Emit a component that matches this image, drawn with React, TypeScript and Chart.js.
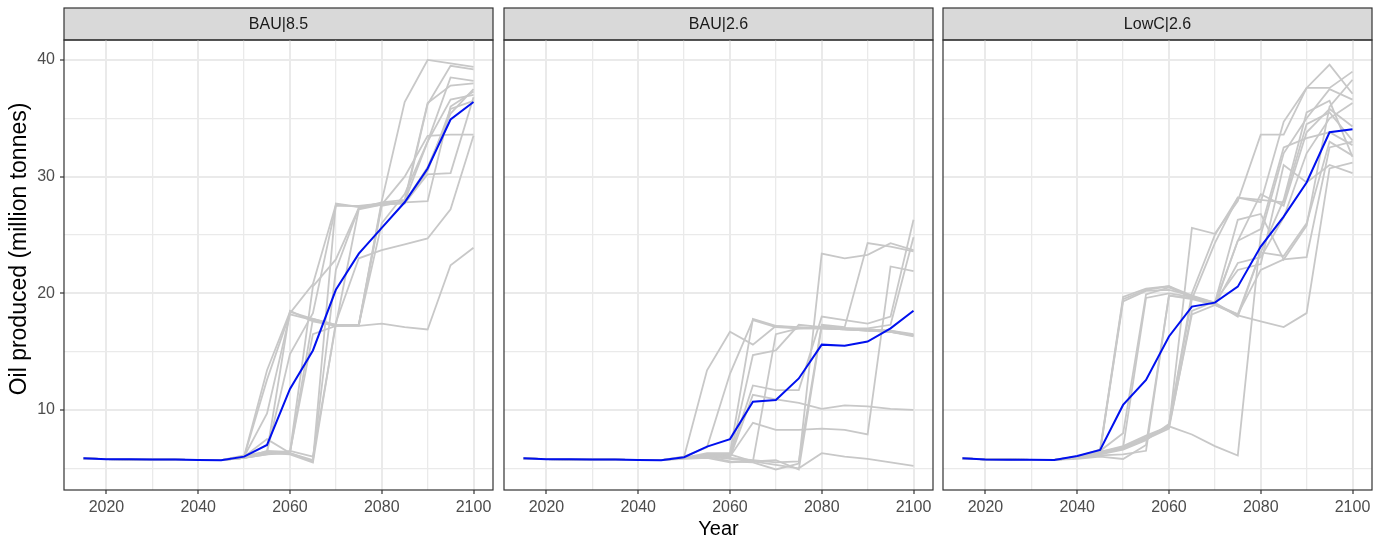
import React, { useEffect, useRef } from 'react';
import { Chart, registerables } from 'chart.js';

Chart.register(...registerables);

const years = [2015, 2020, 2025, 2030, 2035, 2040, 2045, 2050, 2055, 2060, 2065, 2070, 2075, 2080, 2085, 2090, 2095, 2100];
const xMajorTicks = [2020, 2040, 2060, 2080, 2100];
const xMinorTicks = [2030, 2050, 2070, 2090];
const yMajorTicks = [10, 20, 30, 40];
const yMinorTicks = [5, 15, 25, 35];
const panelTitles = ['BAU|8.5', 'BAU|2.6', 'LowC|2.6'];
const xAxisTitle = 'Year';
const yAxisTitle = 'Oil produced (million tonnes)';

const bau85Mean = [5.86, 5.78, 5.77, 5.76, 5.75, 5.72, 5.7, 6.0, 7.0, 11.8, 15.1, 20.3, 23.4, 25.6, 27.8, 30.7, 34.9, 36.4];
const bau85Runs = [
  [5.85, 5.78, 5.76, 5.75, 5.74, 5.7, 5.7, 6.0, 13.4, 18.4, 17.8, 17.3, 17.3, 27.9, 36.4, 40.0, 39.7, 39.4],
  [5.85, 5.78, 5.76, 5.75, 5.74, 5.7, 5.7, 6.0, 12.6, 18.3, 20.8, 27.6, 27.4, 27.7, 27.8, 36.2, 39.5, 39.2],
  [5.85, 5.78, 5.76, 5.75, 5.74, 5.7, 5.7, 6.0, 9.7, 18.2, 17.7, 17.2, 17.2, 17.4, 17.1, 16.9, 22.4, 23.9],
  [5.85, 5.78, 5.76, 5.75, 5.74, 5.7, 5.7, 6.1, 6.4, 18.5, 17.6, 17.2, 17.2, 27.5, 27.9, 33.0, 38.5, 38.2],
  [5.85, 5.78, 5.76, 5.75, 5.74, 5.7, 5.7, 5.9, 6.3, 6.3, 5.6, 27.7, 27.4, 27.6, 27.7, 30.2, 30.3, 36.8],
  [5.85, 5.78, 5.76, 5.75, 5.74, 5.7, 5.7, 5.9, 6.3, 6.2, 5.5, 17.5, 23.0, 23.7, 24.2, 24.7, 27.2, 33.5],
  [5.85, 5.78, 5.76, 5.75, 5.74, 5.7, 5.7, 5.9, 6.5, 6.4, 20.6, 22.9, 27.3, 27.8, 28.0, 36.3, 37.8, 38.0],
  [5.85, 5.78, 5.76, 5.75, 5.74, 5.7, 5.7, 6.0, 7.5, 6.3, 17.8, 17.3, 27.2, 27.6, 30.0, 33.5, 33.6, 33.6],
  [5.85, 5.78, 5.76, 5.75, 5.74, 5.7, 5.7, 5.9, 6.2, 6.5, 6.0, 17.3, 17.3, 27.7, 27.7, 30.5, 35.8, 36.5],
  [5.85, 5.78, 5.76, 5.75, 5.74, 5.7, 5.7, 6.0, 6.4, 14.8, 18.3, 27.5, 27.5, 27.7, 27.8, 30.8, 35.4, 37.5],
  [5.85, 5.78, 5.76, 5.75, 5.74, 5.7, 5.7, 5.9, 6.3, 6.4, 16.5, 17.2, 17.3, 26.0, 28.5, 33.0, 36.6, 37.0],
  [5.85, 5.78, 5.76, 5.75, 5.74, 5.7, 5.7, 5.9, 6.2, 6.3, 5.7, 22.0, 27.3, 27.6, 27.8, 27.9, 36.0, 37.3],
];

const bau26Mean = [5.86, 5.78, 5.77, 5.76, 5.75, 5.72, 5.7, 5.95, 6.86, 7.5, 10.7, 10.86, 12.7, 15.6, 15.5, 15.86, 17.0, 18.5];
const bau26Runs = [
  [5.85, 5.78, 5.76, 5.75, 5.74, 5.7, 5.7, 6.0, 13.4, 16.7, 15.6, 17.2, 17.0, 17.1, 17.0, 16.9, 16.8, 16.5],
  [5.85, 5.78, 5.76, 5.75, 5.74, 5.7, 5.7, 6.0, 6.8, 13.1, 17.7, 17.1, 17.0, 17.0, 16.9, 16.8, 16.7, 16.4],
  [5.85, 5.78, 5.76, 5.75, 5.74, 5.7, 5.7, 5.9, 6.3, 6.3, 17.8, 17.2, 17.1, 17.0, 16.9, 16.8, 16.7, 16.3],
  [5.85, 5.78, 5.76, 5.75, 5.74, 5.7, 5.7, 5.9, 6.2, 6.0, 14.7, 15.1, 17.3, 17.1, 17.0, 16.9, 16.8, 16.4],
  [5.85, 5.78, 5.76, 5.75, 5.74, 5.7, 5.7, 5.9, 6.2, 6.1, 12.1, 11.7, 11.7, 18.0, 17.7, 17.4, 18.0, 26.3],
  [5.85, 5.78, 5.76, 5.75, 5.74, 5.7, 5.7, 5.9, 6.1, 5.9, 11.3, 10.9, 10.6, 10.1, 10.4, 10.3, 10.1, 10.0],
  [5.85, 5.78, 5.76, 5.75, 5.74, 5.7, 5.7, 5.9, 6.1, 6.0, 8.9, 8.3, 8.3, 8.4, 8.3, 7.9, 22.3, 21.9],
  [5.85, 5.78, 5.76, 5.75, 5.74, 5.7, 5.7, 5.8, 5.9, 5.5, 5.6, 5.3, 5.0, 6.3, 6.0, 5.8, 5.5, 5.2],
  [5.85, 5.78, 5.76, 5.75, 5.74, 5.7, 5.7, 5.9, 6.0, 5.6, 5.5, 4.9, 5.4, 23.4, 23.0, 23.3, 24.3, 23.7],
  [5.85, 5.78, 5.76, 5.75, 5.74, 5.7, 5.7, 5.9, 6.1, 6.2, 5.6, 16.5, 17.0, 17.0, 16.9, 16.8, 16.7, 16.4],
  [5.85, 5.78, 5.76, 5.75, 5.74, 5.7, 5.7, 5.9, 6.0, 5.8, 5.6, 5.7, 4.9, 17.2, 17.0, 17.0, 17.3, 24.8],
  [5.85, 5.78, 5.76, 5.75, 5.74, 5.7, 5.7, 5.9, 6.0, 5.9, 5.7, 5.5, 5.6, 17.3, 17.1, 24.3, 24.0, 23.6],
];

const lowc26Mean = [5.86, 5.76, 5.74, 5.73, 5.72, 6.06, 6.57, 10.43, 12.57, 16.3, 18.86, 19.2, 20.57, 24.0, 26.57, 29.5, 33.8, 34.06];
const lowc26Runs = [
  [5.85, 5.77, 5.74, 5.73, 5.72, 6.0, 6.5, 19.5, 20.3, 20.6, 19.8, 19.0, 18.1, 17.6, 17.1, 18.3, 30.7, 31.2],
  [5.85, 5.77, 5.74, 5.73, 5.72, 6.0, 6.6, 19.7, 20.4, 20.6, 19.6, 19.1, 18.2, 22.0, 22.9, 23.1, 32.5, 33.0],
  [5.85, 5.77, 5.74, 5.73, 5.72, 6.0, 6.5, 8.0, 19.9, 20.5, 19.7, 19.2, 18.0, 23.5, 23.2, 26.0, 33.0, 31.8],
  [5.85, 5.77, 5.74, 5.73, 5.72, 6.0, 6.4, 6.8, 7.6, 8.6, 7.9, 6.9, 6.1, 25.0, 32.0, 35.0, 37.5, 36.6],
  [5.85, 5.77, 5.74, 5.73, 5.72, 5.9, 6.3, 6.7, 7.5, 8.7, 20.0, 25.0, 28.2, 28.0, 27.8, 34.5, 35.5, 33.1],
  [5.85, 5.77, 5.74, 5.73, 5.72, 5.9, 6.3, 6.8, 7.7, 8.5, 25.6, 25.1, 27.9, 33.6, 33.6, 37.6, 39.6, 37.1],
  [5.85, 5.77, 5.74, 5.73, 5.72, 5.9, 6.2, 6.6, 7.4, 8.8, 19.5, 24.3, 28.2, 27.8, 34.7, 37.6, 37.6, 39.0],
  [5.85, 5.77, 5.74, 5.73, 5.72, 5.9, 6.1, 6.2, 6.5, 19.8, 19.6, 19.0, 22.6, 23.1, 26.5, 32.0, 35.0, 36.3],
  [5.85, 5.77, 5.74, 5.73, 5.72, 5.9, 6.4, 6.9, 7.8, 8.6, 18.2, 19.0, 24.5, 25.5, 32.5, 33.3, 33.8, 32.7],
  [5.85, 5.77, 5.74, 5.73, 5.72, 6.0, 6.5, 19.3, 20.2, 20.3, 19.8, 19.2, 26.3, 26.8, 22.9, 25.8, 36.0, 38.3],
  [5.85, 5.77, 5.74, 5.73, 5.72, 5.9, 6.3, 6.7, 7.5, 8.4, 18.5, 19.3, 22.0, 22.5, 31.0, 29.5, 31.0, 30.3],
  [5.85, 5.77, 5.74, 5.73, 5.72, 5.9, 6.2, 6.8, 19.6, 20.0, 19.7, 19.1, 24.5, 28.5, 27.5, 33.8, 35.8, 34.3],
  [5.85, 5.77, 5.74, 5.73, 5.72, 5.8, 6.0, 5.8, 7.0, 19.8, 19.5, 19.0, 18.2, 23.5, 28.0, 35.5, 36.5, 31.7],
];

const FONT = '"Liberation Sans", Arial, Helvetica, sans-serif';
const GRID = '#EAEAEA';
const DARK = '#333333';
const RUN_COLOR = '#C8C8C8';
const MEAN_COLOR = '#0010EE';
const STRIP_TOP = 8;

const facetPlugin = {
  id: 'facet',
  beforeDraw(chart: any, _args: any, opts: any) {
    const { ctx, chartArea } = chart;
    const { left, right, top, bottom } = chartArea;
    ctx.save();
    ctx.fillStyle = '#FFFFFF';
    ctx.fillRect(left, top, right - left, bottom - top);
    ctx.fillStyle = '#D9D9D9';
    ctx.fillRect(left, STRIP_TOP, right - left, top - STRIP_TOP);
    ctx.strokeStyle = DARK;
    ctx.lineWidth = 1.2;
    ctx.strokeRect(left, STRIP_TOP, right - left, top - STRIP_TOP);
    ctx.fillStyle = '#1A1A1A';
    ctx.font = `16px ${FONT}`;
    ctx.textAlign = 'center';
    ctx.textBaseline = 'middle';
    ctx.fillText(opts.text, (left + right) / 2, (STRIP_TOP + top) / 2 + 1);
    if (opts.yTitle) {
      // axis title centred over strip + panel, as ggplot does for facets
      ctx.translate(20, (STRIP_TOP + bottom) / 2);
      ctx.rotate(-Math.PI / 2);
      ctx.fillStyle = '#000000';
      ctx.font = `23px ${FONT}`;
      ctx.fillText(opts.yTitle, 0, 0);
    }
    ctx.restore();
  },
  afterDraw(chart: any) {
    const { ctx, chartArea } = chart;
    const { left, right, top, bottom } = chartArea;
    ctx.save();
    ctx.strokeStyle = DARK;
    ctx.lineWidth = 1.2;
    ctx.strokeRect(left, top, right - left, bottom - top);
    ctx.restore();
  },
};

type PanelProps = {
  title: string;
  mean: number[];
  runs: number[][];
  showY: boolean;
  showXTitle: boolean;
  left: number;
  width: number;
  padLeft: number;
  padRight: number;
};

function toPoints(vals: number[]) {
  return years.map((y, i) => ({ x: y, y: vals[i] }));
}

function Panel(p: PanelProps) {
  const ref = useRef<HTMLCanvasElement | null>(null);
  useEffect(() => {
    if (!ref.current) return;
    const allX = [...xMajorTicks, ...xMinorTicks].sort((a, b) => a - b);
    const allY = [...yMajorTicks, ...yMinorTicks].sort((a, b) => a - b);
    const datasets: any[] = [
      {
        data: toPoints(p.mean),
        borderColor: MEAN_COLOR,
        borderWidth: 2,
        pointRadius: 0,
        tension: 0,
      },
      ...p.runs.map((r) => ({
        data: toPoints(r),
        borderColor: RUN_COLOR,
        borderWidth: 1.8,
        pointRadius: 0,
        tension: 0,
      })),
    ];
    const chart = new Chart(ref.current, {
      type: 'line',
      data: { datasets },
      plugins: [facetPlugin as any],
      options: {
        animation: false,
        responsive: false,
        events: [],
        layout: { padding: { left: p.padLeft, right: p.padRight, top: 40, bottom: 0 } },
        plugins: {
          legend: { display: false },
          tooltip: { enabled: false },
          title: { display: false },
          facet: { text: p.title, yTitle: p.showY ? yAxisTitle : '' },
        } as any,
        scales: {
          x: {
            type: 'linear',
            min: 2010.75,
            max: 2104.25,
            afterBuildTicks: (s: any) => {
              s.ticks = allX.map((v) => ({ value: v }));
            },
            afterFit: (s: any) => {
              s.height = 51;
            },
            ticks: {
              autoSkip: false,
              maxRotation: 0,
              padding: 4,
              color: '#4D4D4D',
              font: { family: FONT, size: 16 },
              callback: (v: any) => (xMajorTicks.includes(Number(v)) ? String(v) : ''),
            },
            grid: {
              color: GRID,
              lineWidth: (c: any) => (c.tick && xMajorTicks.includes(c.tick.value) ? 2 : 1.3),
              drawTicks: true,
              tickLength: 4,
              tickWidth: 1.2,
              tickColor: (c: any) => (c.tick && xMajorTicks.includes(c.tick.value) ? DARK : 'rgba(0,0,0,0)'),
            },
            border: { display: false },
            title: {
              display: p.showXTitle,
              text: xAxisTitle,
              color: '#000000',
              font: { family: FONT, size: 20 },
              padding: { top: 0, bottom: 0 },
            },
          },
          y: {
            type: 'linear',
            min: 3.14,
            max: 41.71,
            afterBuildTicks: (s: any) => {
              s.ticks = allY.map((v) => ({ value: v }));
            },
            afterFit: (s: any) => {
              s.width = p.showY ? 64 : 0;
            },
            ticks: {
              display: p.showY,
              autoSkip: false,
              padding: 5,
              color: '#4D4D4D',
              font: { family: FONT, size: 16 },
              callback: (v: any) => (yMajorTicks.includes(Number(v)) ? String(v) : ''),
            },
            grid: {
              color: GRID,
              lineWidth: (c: any) => (c.tick && yMajorTicks.includes(c.tick.value) ? 2 : 1.3),
              drawTicks: p.showY,
              tickLength: 4,
              tickWidth: 1.2,
              tickColor: (c: any) => (c.tick && yMajorTicks.includes(c.tick.value) ? DARK : 'rgba(0,0,0,0)'),
            },
            border: { display: false },
            title: { display: false },
          },
        },
      } as any,
    });
    return () => chart.destroy();
  }, []);
  return (
    <canvas
      ref={ref}
      width={p.width}
      height={541}
      style={{ position: 'absolute', left: p.left, top: 0, width: p.width, height: 541 }}
    />
  );
}

export default function App() {
  return (
    <div style={{ position: 'absolute', left: 0, top: 0, width: 1386, height: 541, background: '#FFFFFF', overflow: 'hidden' }}>
      <Panel title={panelTitles[0]} mean={bau85Mean} runs={bau85Runs} showY={true} showXTitle={false} left={0} width={498} padLeft={0} padRight={5} />
      <Panel title={panelTitles[1]} mean={bau26Mean} runs={bau26Runs} showY={false} showXTitle={true} left={498} width={440} padLeft={6} padRight={5} />
      <Panel title={panelTitles[2]} mean={lowc26Mean} runs={lowc26Runs} showY={false} showXTitle={false} left={938} width={448} padLeft={5} padRight={14} />
    </div>
  );
}
